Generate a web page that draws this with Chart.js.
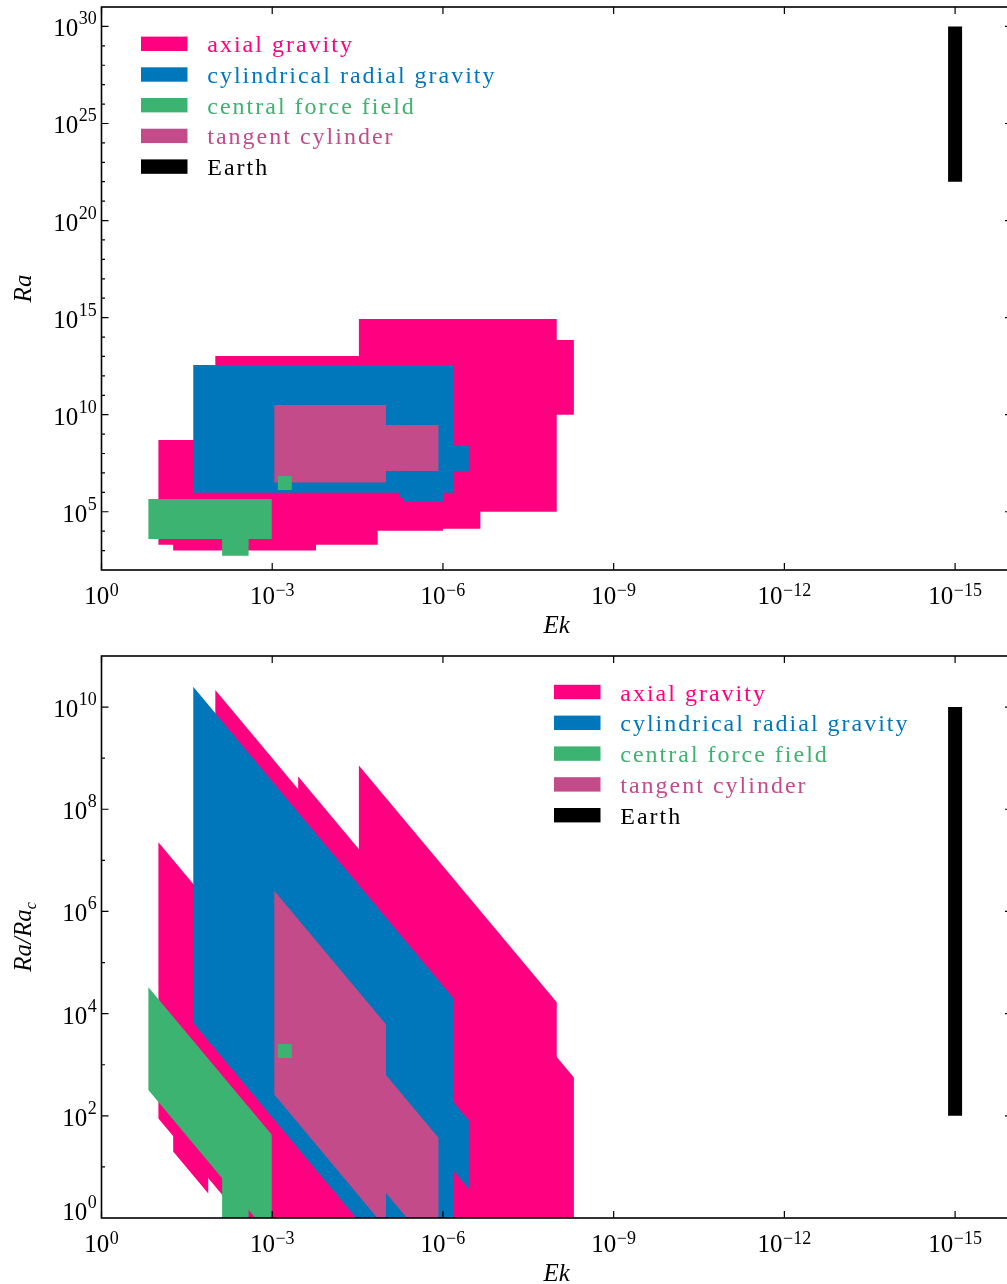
<!DOCTYPE html>
<html lang="en">
<head>
<meta charset="utf-8">
<title>Rotating convection: explored Ek–Ra parameter space</title>
<script src="https://cdn.jsdelivr.net/npm/chart.js@4.4.1/dist/chart.umd.min.js"></script>
<style>
  html, body { margin: 0; padding: 0; background: #ffffff; overflow: hidden; }
  #figure { position: relative; width: 1007px; height: 1284px; overflow: hidden; }
  #figure canvas { position: absolute; left: 0; display: block; }
</style>
</head>
<body>
<div id="figure">
  <canvas id="raPanel" width="1016" height="640" style="top:0px"></canvas>
  <canvas id="ratioPanel" width="1016" height="644" style="top:640px"></canvas>
</div>
<script>
// ---- categories ----
const categories = ['axial gravity', 'cylindrical radial gravity', 'central force field', 'tangent cylinder', 'Earth'];
const categoryColors = ['#ff0080', '#0077bb', '#3cb371', '#c44b8a', '#000000'];

// ---- upper panel: explored ranges [Ek upper, Ek lower, Ra lower, Ra upper] ----
const axialGravityRa = [
  [0.1, 1.4e-5, 2.0e3, 5.0e8],
  [0.055, 1.7e-4, 1.0e3, 2.0e4],
  [0.01, 1.0e-6, 1.05e4, 1.07e13],
  [3.5e-4, 2.2e-7, 1.35e4, 1.0e10],
  [3.0e-5, 1.0e-8, 1.0e5, 8.5e14],
  [1.0e-6, 5.0e-9, 1.0e10, 7.1e13]
];
const radialGravityRa = [
  [0.0244, 6.65e-7, 9.6e5, 3.6e12],
  [1.0e-5, 3.5e-7, 1.15e7, 2.5e8],
  [5.7e-6, 1.0e-6, 5.6e5, 1.0e7],
  [5.0e-6, 1.0e-6, 3.3e5, 1.0e7]
];
const centralForceRa = [
  [0.15, 1.02e-3, 4.0e3, 4.6e5],
  [7.6e-3, 2.6e-3, 5.5e2, 1.0e4]
];
const tangentCylinderRa = [
  [9.2e-4, 1.0e-5, 3.2e6, 3.2e10],
  [1.1e-5, 1.2e-6, 1.26e7, 2.95e9]
];
const centralForcePointRa = [6.0e-4, 3.0e6];      // [Ek, Ra]
const earthRa = [1e-15, 1e22, 1e30];               // [Ek, Ra lower, Ra upper]

// ---- lower panel: [Ek upper, Ek lower, Ra/Ra_c lower, Ra/Ra_c upper], ratios taken at Ek upper ----
const axialGravityRatio = [
  [0.1, 1.4e-5, 89, 2.25e7],
  [0.055, 0.0133, 20, 1.0e3],
  [0.01, 1.0e-6, 21, 2.15e10],
  [3.5e-4, 2.2e-7, 2, 4.4e8],
  [3.0e-5, 1.0e-8, 0.085, 7.2e8],
  [1.0e-6, 5.0e-9, 89, 6.6e5]
];
const radialGravityRatio = [
  [0.0244, 6.65e-7, 6.6e3, 2.5e10],
  [7.0e-7, 3.5e-7, 9.3, 203]
];
const centralForceRatio = [
  [0.15, 1.02e-3, 320, 3.3e4],
  [7.6e-3, 2.6e-3, 0.75, 30]
];
const tangentCylinderRatio = [
  [9.2e-4, 1.0e-5, 260, 2.55e6],
  [1.1e-5, 1.2e-6, 3.5, 716]
];
const centralForcePointRatio = [6.0e-4, 1.85e3];  // [Ek, Ra/Ra_c]
const earthRatio = [1e-15, 1e2, 1e10];             // [Ek, Ra/Ra_c lower, Ra/Ra_c upper]

// ---- tick exponents ----
const ekTickExponents = [0, -3, -6, -9, -12, -15];
const raTickExponents = [5, 10, 15, 20, 25, 30];
const ratioTickExponents = [0, 2, 4, 6, 8, 10];

// Ra_c scales as Ek^(-4/3): at fixed Ra the ratio Ra/Ra_c falls as Ek^(4/3)
const RAC_SLOPE = 4 / 3;

const SERIF = '"Liberation Serif", "Times New Roman", serif';
const drawOrder = [4, 3, 1, 2, 0];   // larger order is painted first

function rectangle(r) {
  const [ekHi, ekLo, lo, hi] = r;
  return [{x: ekHi, y: lo}, {x: ekHi, y: hi}, {x: ekLo, y: hi}, {x: ekLo, y: lo}, {x: ekHi, y: lo}];
}
function sheared(r) {
  const [ekHi, ekLo, lo, hi] = r;
  const k = Math.pow(ekLo / ekHi, RAC_SLOPE);
  return [{x: ekHi, y: lo}, {x: ekHi, y: hi}, {x: ekLo, y: hi * k}, {x: ekLo, y: lo * k}, {x: ekHi, y: lo}];
}
function regionSets(list, cat, shape) {
  return list.map(r => ({
    label: categories[cat],
    data: shape(r),
    fill: 'shape',
    backgroundColor: categoryColors[cat],
    borderColor: categoryColors[cat],
    borderWidth: 0,
    pointRadius: 0,
    tension: 0,
    order: drawOrder[cat]
  }));
}
function markerSet(p, cat) {
  return {
    label: categories[cat],
    data: [{x: p[0], y: p[1]}],
    showLine: false,
    fill: false,
    pointStyle: 'rect',
    pointRadius: 9.9,
    pointBorderWidth: 0,
    backgroundColor: categoryColors[cat],
    pointBackgroundColor: categoryColors[cat],
    order: 0.5
  };
}
function earthSet(e) {
  return {
    label: categories[4],
    data: [{x: e[0], y: e[1]}, {x: e[0], y: e[2]}],
    borderColor: categoryColors[4],
    borderWidth: 14,
    borderCapStyle: 'butt',
    pointRadius: 0,
    fill: false,
    order: 0
  };
}

// 10^n label with a raised exponent
function powerLabel(ctx, exp, x, base, align, raise) {
  const sup = exp < 0 ? '\u2212' + Math.abs(exp) : String(exp);
  ctx.font = '25px ' + SERIF;
  const w1 = ctx.measureText('10').width;
  ctx.font = '18px ' + SERIF;
  const w2 = ctx.measureText(sup).width;
  const gap = 0.5;
  const total = w1 + gap + w2;
  const x0 = align === 'center' ? x - total / 2 : x - total;
  ctx.font = '25px ' + SERIF;
  ctx.fillText('10', x0, base);
  ctx.font = '18px ' + SERIF;
  ctx.fillText(sup, x0 + w1 + gap, base - raise);
}

// italic axis title made of pieces; a piece may carry a downward shift (subscript)
function titleText(ctx, pieces, cx, baseY) {
  let total = 0;
  const widths = pieces.map(p => {
    ctx.font = 'italic ' + p.size + 'px ' + SERIF;
    const w = ctx.measureText(p.text).width;
    total += w;
    return w;
  });
  let x = cx - total / 2;
  pieces.forEach((p, i) => {
    ctx.font = 'italic ' + p.size + 'px ' + SERIF;
    ctx.fillText(p.text, x, baseY + (p.drop || 0));
    x += widths[i];
  });
}

function framePlugin(cfg) {
  return {
    id: 'frame',
    afterDraw(chart) {
      const {ctx, chartArea: a, scales: {x, y}} = chart;
      ctx.save();
      ctx.fillStyle = '#000';
      ctx.strokeStyle = '#000';
      ctx.textAlign = 'left';
      ctx.textBaseline = 'alphabetic';

      // inward tick marks
      ctx.lineWidth = 1.2;
      ctx.beginPath();
      ekTickExponents.forEach(e => {
        const px = x.getPixelForValue(Math.pow(10, e));
        ctx.moveTo(px, a.bottom); ctx.lineTo(px, a.bottom - 7);
        ctx.moveTo(px, a.top); ctx.lineTo(px, a.top + 7);
      });
      for (let e = cfg.yMinExp + 1; e < cfg.yMaxExp; e++) {
        const py = y.getPixelForValue(Math.pow(10, e));
        const len = cfg.yTicks.includes(e) ? 7 : 3.5;
        ctx.moveTo(a.left, py); ctx.lineTo(a.left + len, py);
        ctx.moveTo(a.right, py); ctx.lineTo(a.right - len, py);
      }
      ctx.stroke();

      // frame
      ctx.lineWidth = 1.6;
      ctx.strokeRect(a.left, a.top, a.right - a.left, a.bottom - a.top);

      // tick labels
      ekTickExponents.forEach(e => {
        powerLabel(ctx, e, x.getPixelForValue(Math.pow(10, e)), a.bottom + 33.5, 'center', 8);
      });
      cfg.yTicks.forEach(e => {
        const py = y.getPixelForValue(Math.pow(10, e));
        const lift = e === cfg.yMinExp ? cfg.minLabelLift : 0;
        powerLabel(ctx, e, a.left - 4.8, py + 10 - lift, 'right', 12);
      });

      // axis titles
      titleText(ctx, [{text: 'Ek', size: 25}], (a.left + a.right) / 2, a.bottom + 63);
      ctx.save();
      ctx.translate(31, (a.top + a.bottom) / 2);
      ctx.rotate(-Math.PI / 2);
      titleText(ctx, cfg.yTitle, 0, 0);
      ctx.restore();

      // legend
      ctx.font = '24px ' + SERIF;
      if ('letterSpacing' in ctx) ctx.letterSpacing = '2px';
      categories.forEach((name, i) => {
        const cy = a.top + cfg.legendTop + i * cfg.legendGap;
        const bx = a.left + cfg.legendLeft;
        ctx.fillStyle = categoryColors[i];
        ctx.fillRect(bx, cy - 7.2, 46.5, 14.4);
        ctx.fillText(name, bx + 66.3, cy + 8.5);
      });
      if ('letterSpacing' in ctx) ctx.letterSpacing = '0px';
      ctx.restore();
    }
  };
}

function panelOptions(yMin, yMax, padTop, padBottom) {
  return {
    responsive: false,
    animation: false,
    events: [],
    layout: {autoPadding: false, padding: {left: 101.5, right: 4, top: padTop, bottom: padBottom}},
    plugins: {legend: {display: false}, tooltip: {enabled: false}},
    scales: {
      x: {type: 'logarithmic', reverse: true, min: 1e-16, max: 1, display: false},
      y: {type: 'logarithmic', min: yMin, max: yMax, display: false}
    }
  };
}

// upper panel: Ra against Ek
new Chart(document.getElementById('raPanel'), {
  type: 'line',
  data: {
    datasets: [
      ...regionSets(axialGravityRa, 0, rectangle),
      ...regionSets(radialGravityRa, 1, rectangle),
      ...regionSets(centralForceRa, 2, rectangle),
      ...regionSets(tangentCylinderRa, 3, rectangle),
      markerSet(centralForcePointRa, 2),
      earthSet(earthRa)
    ]
  },
  options: panelOptions(1e2, 1e31, 7, 70),
  plugins: [framePlugin({
    yMinExp: 2, yMaxExp: 31, yTicks: raTickExponents, minLabelLift: 0,
    yTitle: [{text: 'Ra', size: 25}],
    legendLeft: 39.5, legendTop: 36.8, legendGap: 30.7
  })]
});

// lower panel: Ra/Ra_c against Ek
new Chart(document.getElementById('ratioPanel'), {
  type: 'line',
  data: {
    datasets: [
      ...regionSets(axialGravityRatio, 0, sheared),
      ...regionSets(radialGravityRatio, 1, sheared),
      ...regionSets(centralForceRatio, 2, sheared),
      ...regionSets(tangentCylinderRatio, 3, sheared),
      markerSet(centralForcePointRatio, 2),
      earthSet(earthRatio)
    ]
  },
  options: panelOptions(1, 1e11, 16, 66),
  plugins: [framePlugin({
    yMinExp: 0, yMaxExp: 11, yTicks: ratioTickExponents, minLabelLift: 8,
    yTitle: [{text: 'Ra/Ra', size: 25}, {text: 'c', size: 16, drop: 5}],
    legendLeft: 452.5, legendTop: 36, legendGap: 30.8
  })]
});
</script>
</body>
</html>
